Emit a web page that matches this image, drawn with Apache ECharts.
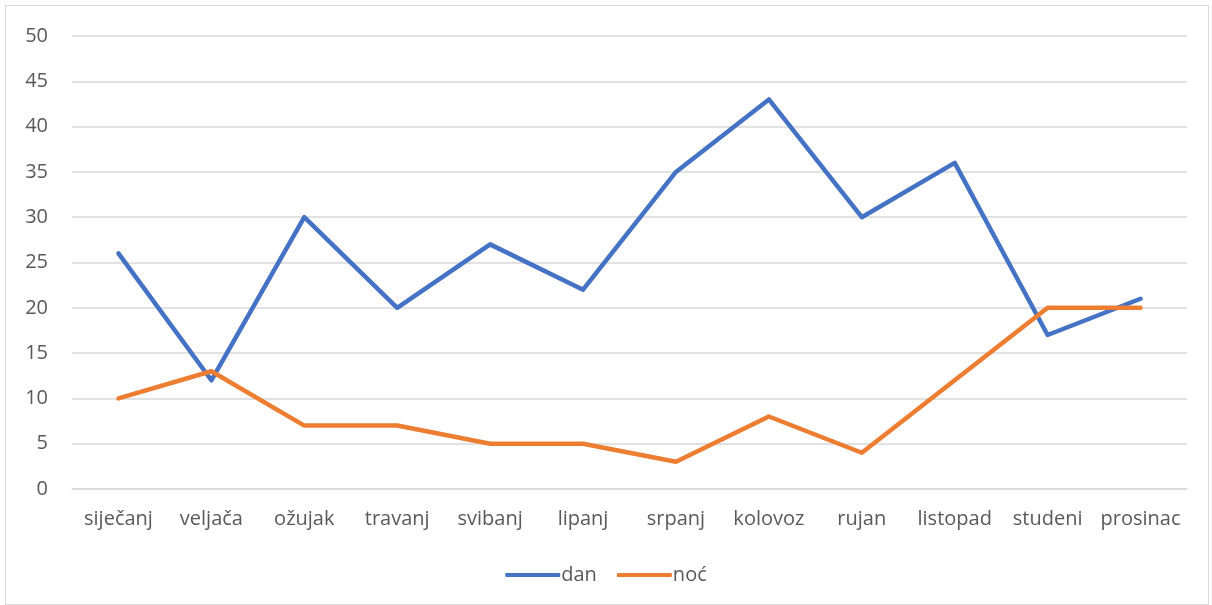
<!DOCTYPE html>
<html><head><meta charset="utf-8">
<script src="https://cdn.jsdelivr.net/npm/echarts@6/dist/echarts.min.js"></script>
<style>
html,body{margin:0;padding:0;background:#fff;}
#frame{position:absolute;left:5px;top:5px;width:1204px;height:600px;border:1px solid #d9d9d9;box-sizing:border-box;}
#c{position:absolute;left:0;top:0;width:1212px;height:605px;}
</style></head>
<body><div id="frame"></div><div id="c"></div>
<script>
const categories = ['siječanj','veljača','ožujak','travanj','svibanj','lipanj','srpanj','kolovoz','rujan','listopad','studeni','prosinac'];
const dan = [26,12,30,20,27,22,35,43,30,36,17,21];
const noc = [10,13,7,7,5,5,3,8,4,12,20,20];
const chart = echarts.init(document.getElementById('c'));
const font = '"Open Sans", "Noto Sans", sans-serif';
chart.setOption({
  animation:false,
  grid:{left:72,right:25,top:36,bottom:116},
  legend:{bottom:15,left:'center',itemWidth:55,itemHeight:4,itemGap:20,
    textStyle:{color:'#595959',fontSize:20,fontFamily:font,padding:[0,0,0,-4]},
    data:[{name:'dan',icon:'roundRect'},{name:'noć',icon:'roundRect'}]},
  xAxis:{type:'category',data:categories,boundaryGap:true,
    axisLine:{lineStyle:{color:'#d9d9d9',width:1.5}},axisTick:{show:false},
    axisLabel:{color:'#595959',fontSize:20,fontFamily:font,margin:20,interval:0}},
  yAxis:{type:'value',min:0,max:50,interval:5,
    axisLine:{show:false},axisTick:{show:false},
    splitLine:{lineStyle:{color:'#d9d9d9',width:1.5}},
    axisLabel:{color:'#595959',fontSize:20,fontFamily:font,margin:24}},
  series:[
    {name:'dan',type:'line',data:dan,symbol:'none',color:'#4472C4',lineStyle:{width:4.5,cap:'round',join:'round'}},
    {name:'noć',type:'line',data:noc,symbol:'none',color:'#ED7D31',lineStyle:{width:4.5,cap:'round',join:'round'}}
  ]
});
</script></body></html>
